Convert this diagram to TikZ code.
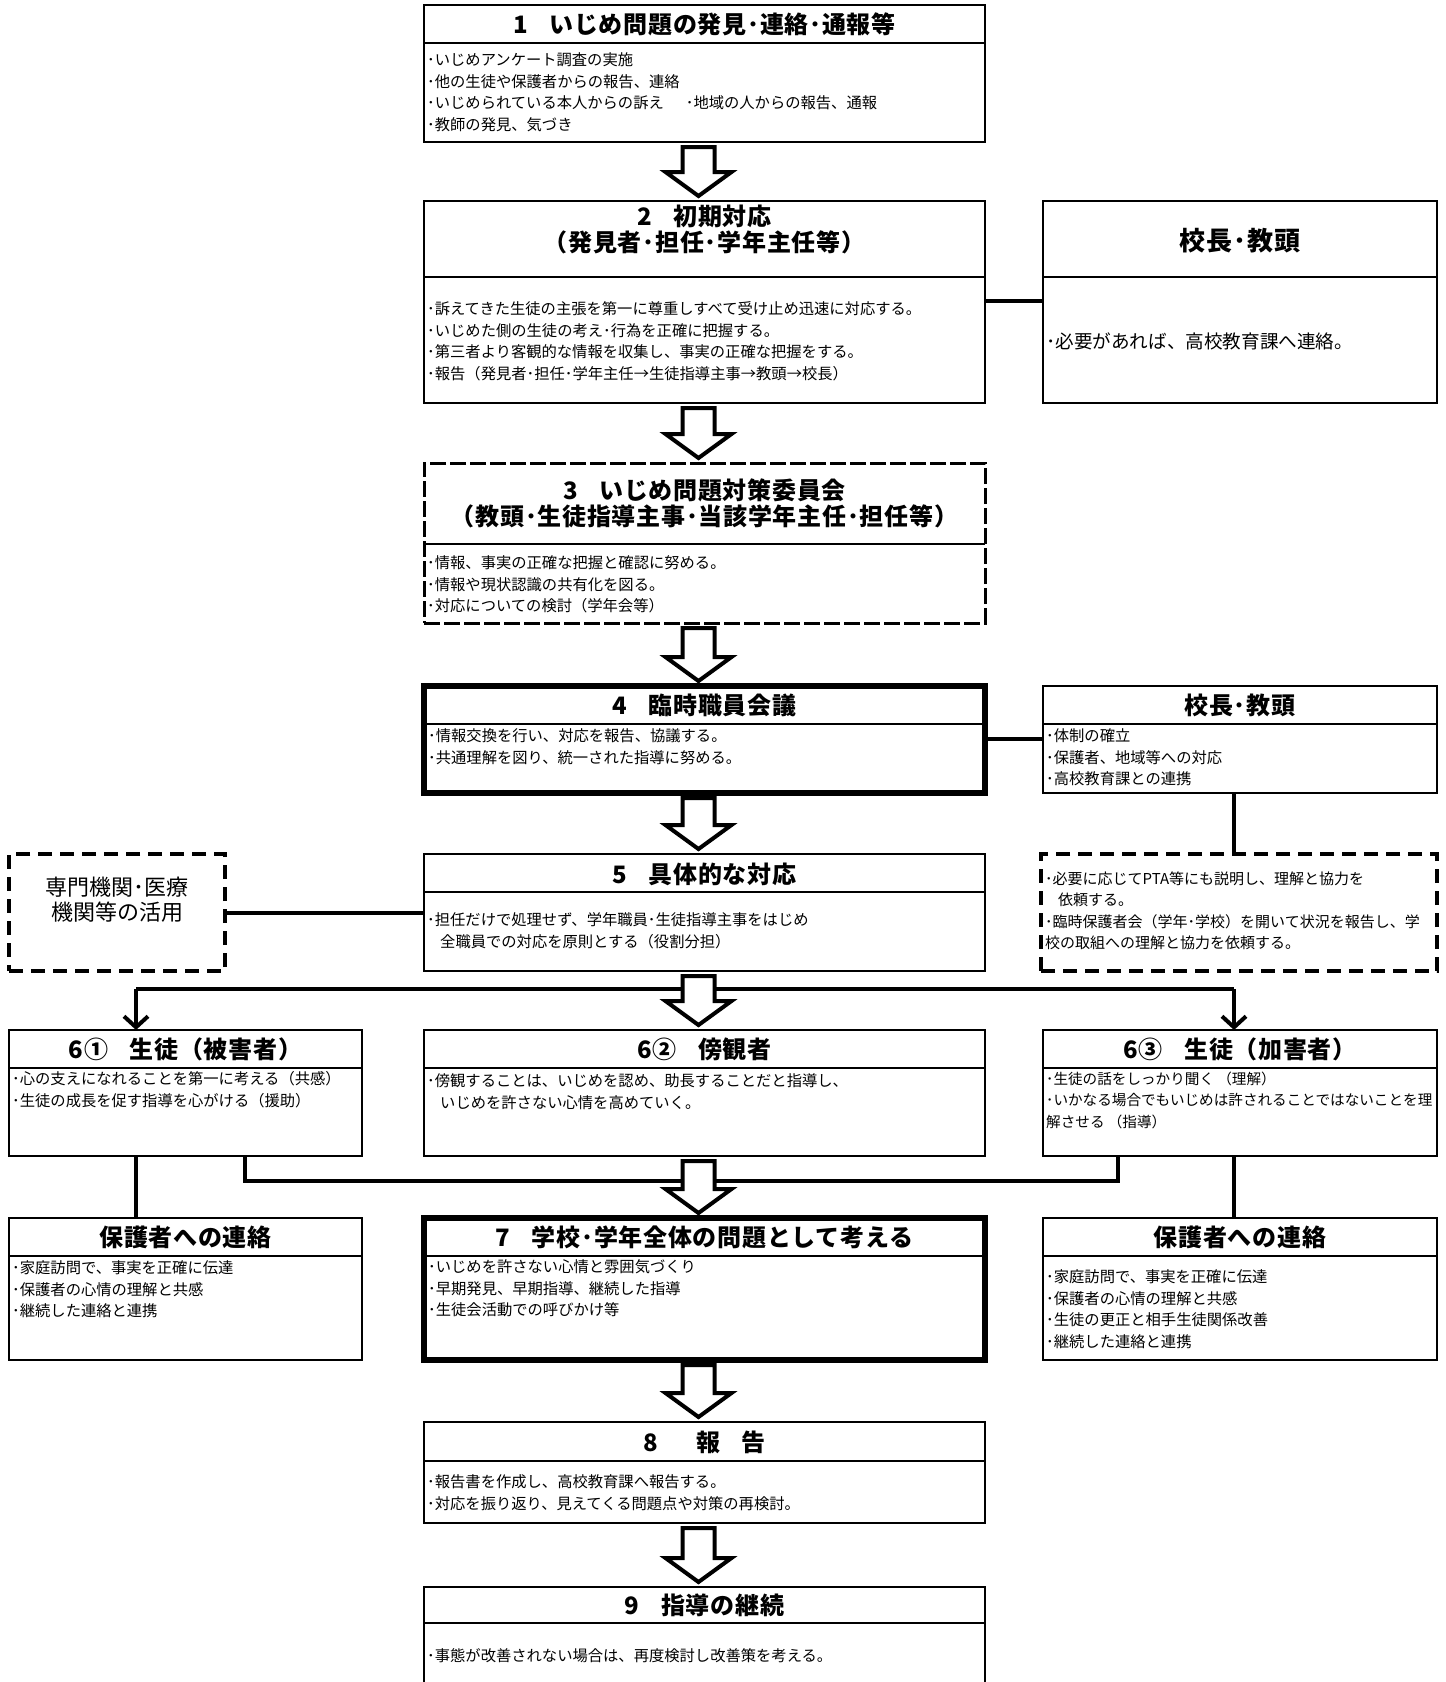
\documentclass[tikz,border=0pt]{standalone}
\usepackage{fontspec}
\setmainfont{Noto Sans CJK JP}
\newfontfamily\ttlf[LetterSpace=3]{Noto Sans CJK JP}
\usetikzlibrary{arrows.meta,calc}
\tikzset{
 box/.style={draw, line width=2.2pt, rectangle, anchor=north west, inner sep=0pt, outer sep=0pt},
 thickbox/.style={box, line width=5.4pt},
 dbox/.style={box, line width=3pt, dash pattern=on 16pt off 4pt},
 ddbox/.style={box, line width=4.5pt, dash pattern=on 14pt off 8pt},
 div/.style={line width=2.2pt},
 ttl/.style={font=\ttlf\fontsize{24}{26}\selectfont\bfseries, inner sep=0pt, align=center},
 bdy/.style={font=\fontsize{15.3}{21.5}\selectfont, inner sep=0pt, align=left, anchor=north west},
 conn/.style={line width=4pt},
 harrowst/.style={draw, line width=4pt, fill=white, line join=miter},
 barb/.style={-{Straight Barb[length=11pt,width=24pt,line width=4pt]}},
}
\newcommand\harr[2]{\path[harrowst] let \p1=(#1.south), \p2=(#2.north) in
 (\x1-22pt,\y1-5pt) -- (\x1+10pt,\y1-5pt) -- (\x1+10pt,\y2+29pt) -- (\x1+27pt,\y2+29pt)
 -- (\x1-6pt,\y2+5pt) -- (\x1-39pt,\y2+29pt) -- (\x1-22pt,\y2+29pt) -- cycle;}
\begin{document}
\begin{tikzpicture}[x=1pt,y=-1pt]
\useasboundingbox[fill=white] (0,0) rectangle (1446,1682);

% boxes
\node[box, minimum width=561pt, minimum height=137pt] (b1) at (424,5) {};
\node[box, minimum width=561pt, minimum height=202pt] (b2) at (424,201) {};
\node[box, minimum width=394pt, minimum height=202pt] (b2r) at (1043,201) {};
\node[dbox, minimum width=561pt, minimum height=160pt] (b3) at (424,463) {};
\node[thickbox, minimum width=561pt, minimum height=107pt] (b4) at (424,686) {};
\node[box, minimum width=394pt, minimum height=107pt] (b4r) at (1043,686) {};
\node[box, minimum width=561pt, minimum height=117pt] (b5) at (424,854) {};
\node[ddbox, minimum width=396pt, minimum height=117pt] (b5r) at (1041,854) {};
\node[ddbox, minimum width=216pt, minimum height=117pt] (b5l) at (9,854) {};
\node[box, minimum width=353pt, minimum height=126pt] (b61) at (9,1030) {};
\node[box, minimum width=561pt, minimum height=126pt] (b62) at (424,1030) {};
\node[box, minimum width=394pt, minimum height=126pt] (b63) at (1043,1030) {};
\node[box, minimum width=353pt, minimum height=142pt] (p1) at (9,1218) {};
\node[thickbox, minimum width=561pt, minimum height=142pt] (b7) at (424,1218) {};
\node[box, minimum width=394pt, minimum height=142pt] (p3) at (1043,1218) {};
\node[box, minimum width=561pt, minimum height=101pt] (b8) at (424,1422) {};
\node[box, minimum width=561pt, minimum height=97pt] (b9) at (424,1587) {};

% dividers
\draw[div] (b1.west |- 0,43) -- (b1.east |- 0,43);
\draw[div] (b2.west |- 0,277) -- (b2.east |- 0,277);
\draw[div] (b2r.west |- 0,277) -- (b2r.east |- 0,277);
\draw[div] (b3.west |- 0,544) -- (b3.east |- 0,544);
\draw[div] (b4.west |- 0,724) -- (b4.east |- 0,724);
\draw[div] (b4r.west |- 0,724) -- (b4r.east |- 0,724);
\draw[div] (b5.west |- 0,892) -- (b5.east |- 0,892);
\draw[div] (b61.west |- 0,1068) -- (b61.east |- 0,1068);
\draw[div] (b62.west |- 0,1068) -- (b62.east |- 0,1068);
\draw[div] (b63.west |- 0,1068) -- (b63.east |- 0,1068);
\draw[div] (p1.west |- 0,1256) -- (p1.east |- 0,1256);
\draw[div] (b7.west |- 0,1256) -- (b7.east |- 0,1256);
\draw[div] (p3.west |- 0,1256) -- (p3.east |- 0,1256);
\draw[div] (b8.west |- 0,1461) -- (b8.east |- 0,1461);
\draw[div] (b9.west |- 0,1623) -- (b9.east |- 0,1623);

% connectors
\draw[conn] (b2.east |- 0,301) -- (b2r.west |- 0,301);
\draw[conn] (b4.east |- 0,739) -- (b4r.west |- 0,739);
\draw[conn] (b4r.south -| 1234,0) -- (b5r.north -| 1234,0);
\draw[conn] (b5l.east |- 0,913) -- (b5.west |- 0,913);
\coordinate (hl) at (136,989);
\coordinate (hr) at (1234,989);
\draw[conn] (hl) -- (hr);
\draw[conn, barb] (hl) -- (b61.north -| hl);
\draw[conn, barb] (hr) -- (b63.north -| hr);
\coordinate (ml) at (245,1181);
\coordinate (mr) at (1118,1181);
\draw[conn] (b61.south -| ml) -- (ml) -- (mr) -- (b63.south -| mr);
\draw[conn] (b61.south -| hl) -- (p1.north -| hl);
\draw[conn] (b63.south -| hr) -- (p3.north -| hr);

% hollow arrows
\harr{b1}{b2}
\harr{b2}{b3}
\harr{b3}{b4}
\harr{b4}{b5}
\harr{b5}{b62}
\harr{b62}{b7}
\harr{b7}{b8}
\harr{b8}{b9}

% titles
\node[ttl] (t1) at (b1.north |- 0,24) {1\hspace{0.9em}いじめ問題の発見･連絡･通報等};
\node[ttl, anchor=north] (t2) at (b2.north |- 0,205) {2\hspace{0.9em}初期対応\\（発見者･担任･学年主任等）};
\node[ttl, font=\ttlf\fontsize{26}{28}\selectfont\bfseries] (t2r) at (b2r.north |- 0,241) {校長･教頭};
\node[ttl, anchor=north] (t3) at (b3.north |- 0,479) {3\hspace{0.9em}いじめ問題対策委員会\\（教頭･生徒指導主事･当該学年主任･担任等）};
\node[ttl] (t4) at (b4.north |- 0,705) {4\hspace{0.9em}臨時職員会議};
\node[ttl] (t4r) at (b4r.north |- 0,705) {校長･教頭};
\node[ttl] (t5) at (b5.north |- 0,874) {5\hspace{0.9em}具体的な対応};
\node[ttl] (t61) at (b61.north |- 0,1049) {6①\hspace{0.9em}生徒（被害者）};
\node[ttl] (t62) at (b62.north |- 0,1049) {6②\hspace{0.9em}傍観者};
\node[ttl] (t63) at (b63.north |- 0,1049) {6③\hspace{0.9em}生徒（加害者）};
\node[ttl] (tp1) at (p1.north |- 0,1237) {保護者への連絡};
\node[ttl] (t7) at (b7.north |- 0,1237) {7\hspace{0.9em}学校･学年全体の問題として考える};
\node[ttl] (tp3) at (p3.north |- 0,1237) {保護者への連絡};
\node[ttl] (t8) at (b8.north |- 0,1442) {8\hspace{1.6em}報\hspace{0.9em}告};
\node[ttl] (t9) at (b9.north |- 0,1605) {9\hspace{0.9em}指導の継続};
\node[font=\fontsize{22}{25}\selectfont, inner sep=0pt, align=center, anchor=north] (t5l) at (b5l.north |- 0,877) {専門機関･医療\\機関等の活用};

% bodies
\node[bdy] (x1) at (427,52.5) {･いじめアンケート調査の実施\\･他の生徒や保護者からの報告、連絡\\･いじめられている本人からの訴え\hspace{22pt}･地域の人からの報告、通報\\･教師の発見、気づき};
\node[bdy] (x2) at (427,301.5) {･訴えてきた生徒の主張を第一に尊重しすべて受け止め迅速に対応する。\\･いじめた側の生徒の考え･行為を正確に把握する。\\･第三者より客観的な情報を収集し、事実の正確な把握をする。\\･報告（発見者･担任･学年主任→生徒指導主事→教頭→校長）};
\node[bdy, font=\fontsize{18.6}{22}\selectfont] (x2r) at (1046,333) {･必要があれば、高校教育課へ連絡。};
\node[bdy] (x3) at (427,555.5) {･情報、事実の正確な把握と確認に努める。\\･情報や現状認識の共有化を図る。\\･対応についての検討（学年会等）};
\node[bdy] (x4) at (428,728.5) {･情報交換を行い、対応を報告、協議する。\\･共通理解を図り、統一された指導に努める。};
\node[bdy] (x4r) at (1046,728.5) {･体制の確立\\･保護者、地域等への対応\\･高校教育課との連携};
\node[bdy] (x5) at (427,912.5) {･担任だけで処理せず、学年職員･生徒指導主事をはじめ\\\hspace*{13pt}全職員での対応を原則とする（役割分担）};
\node[bdy, font=\fontsize{15}{21.5}\selectfont] (x5r) at (1045,871.5) {･必要に応じてPTA等にも説明し、理解と協力を\\\hspace*{13pt}依頼する。\\･臨時保護者会（学年･学校）を開いて状況を報告し、学\\校の取組への理解と協力を依頼する。};
\node[bdy] (x61) at (12,1071.5) {･心の支えになれることを第一に考える（共感）\\･生徒の成長を促す指導を心がける（援助）};
\node[bdy] (x62) at (427,1073.5) {･傍観することは、いじめを認め、助長することだと指導し、\\\hspace*{13pt}いじめを許さない心情を高めていく。};
\node[bdy, font=\fontsize{14.6}{21.5}\selectfont] (x63) at (1046,1071.5) {･生徒の話をしっかり聞く （理解）\\･いかなる場合でもいじめは許されることではないことを理\\解させる （指導）};
\node[bdy] (xp1) at (12,1260.5) {･家庭訪問で、事実を正確に伝達\\･保護者の心情の理解と共感\\･継続した連絡と連携};
\node[bdy] (x7) at (428,1259.5) {･いじめを許さない心情と雰囲気づくり\\･早期発見、早期指導、継続した指導\\･生徒会活動での呼びかけ等};
\node[bdy] (xp3) at (1046,1269.5) {･家庭訪問で、事実を正確に伝達\\･保護者の心情の理解と共感\\･生徒の更正と相手生徒関係改善\\･継続した連絡と連携};
\node[bdy] (x8) at (427,1474.5) {･報告書を作成し、高校教育課へ報告する。\\･対応を振り返り、見えてくる問題点や対策の再検討。};
\node[bdy] (x9) at (427,1648.5) {･事態が改善されない場合は、再度検討し改善策を考える。};
\end{tikzpicture}
\end{document}
